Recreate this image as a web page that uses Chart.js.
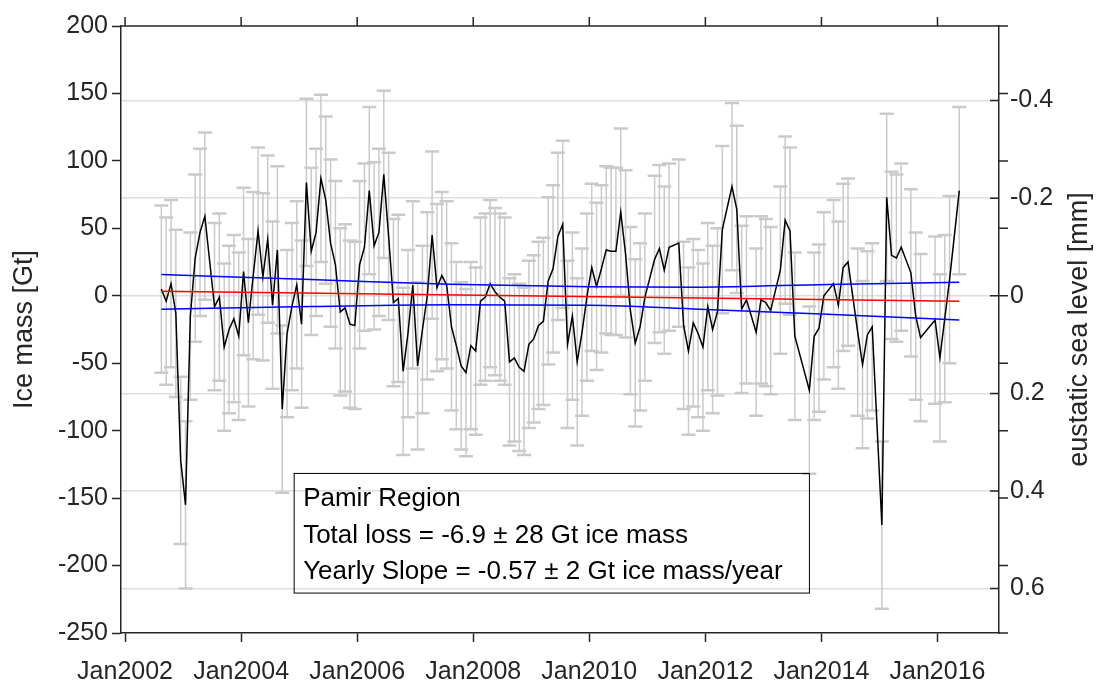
<!DOCTYPE html>
<html>
<head>
<meta charset="utf-8">
<title>Pamir Region - ice mass</title>
<script src="https://cdn.jsdelivr.net/npm/chart.js@4.4.1/dist/chart.umd.min.js"></script>
<style>
  html, body { margin: 0; padding: 0; background: #fff; }
</style>
</head>
<body>
<canvas id="massChart" width="1102" height="686"></canvas>
<script>
// ============================================
// Pamir Region ice mass (GRACE monthly solutions)
// ============================================

// Monthly ice mass anomaly [Gt], missing months are left out
const months = [
  '2002-08', '2002-09', '2002-10', '2002-11', '2002-12',
  '2003-01', '2003-02', '2003-03', '2003-04', '2003-05', '2003-07', '2003-08', '2003-09', '2003-10', '2003-11', '2003-12',
  '2004-01', '2004-02', '2004-03', '2004-04', '2004-05', '2004-06', '2004-07', '2004-08', '2004-09', '2004-10', '2004-11', '2004-12',
  '2005-01', '2005-02', '2005-03', '2005-04', '2005-05', '2005-06', '2005-07', '2005-08', '2005-09', '2005-10', '2005-11', '2005-12',
  '2006-01', '2006-02', '2006-03', '2006-04', '2006-05', '2006-06', '2006-07', '2006-08', '2006-09', '2006-10', '2006-11', '2006-12',
  '2007-01', '2007-02', '2007-03', '2007-04', '2007-05', '2007-06', '2007-07', '2007-08', '2007-09', '2007-10', '2007-11', '2007-12',
  '2008-01', '2008-02', '2008-03', '2008-04', '2008-05', '2008-06', '2008-07', '2008-08', '2008-09', '2008-10', '2008-11', '2008-12',
  '2009-01', '2009-02', '2009-03', '2009-04', '2009-05', '2009-06', '2009-07', '2009-08', '2009-09', '2009-10', '2009-11', '2009-12',
  '2010-01', '2010-02', '2010-03', '2010-04', '2010-05', '2010-06', '2010-07', '2010-08', '2010-09', '2010-10', '2010-11', '2010-12',
  '2011-02', '2011-03', '2011-04', '2011-05', '2011-07', '2011-08', '2011-09', '2011-10', '2011-11', '2011-12',
  '2012-01', '2012-02', '2012-03', '2012-04', '2012-06', '2012-07', '2012-08', '2012-09', '2012-11', '2012-12',
  '2013-01', '2013-02', '2013-04', '2013-05', '2013-06', '2013-07', '2013-10', '2013-11', '2013-12',
  '2014-01', '2014-03', '2014-04', '2014-05', '2014-06', '2014-08', '2014-09', '2014-10', '2014-11',
  '2015-01', '2015-02', '2015-03', '2015-04', '2015-05', '2015-07', '2015-08', '2015-09', '2015-12',
  '2016-01', '2016-02', '2016-03', '2016-05'
];

const iceMass = [
  5, -4, 9, -13, -122,
  -155, -15, 28, 47, 59, -8, -1, -38, -25, -17, -30,
  18, -20, 15, 48, 14, 42, -7, 34, -84, -28, -8, 8,
  -21, 84, 33, 47, 87, 71, 39, 23, -12, -9, -21, -22,
  23, 36, 78, 37, 47, 90, 44, -5, -2, -56, -28, 8,
  -52, -25, 0, 45, 6, 15, 8, -23, -37, -52, -57, -37,
  -41, -4, -1, 9, 3, -1, -4, -49, -46, -53, -56, -36,
  -32, -22, -19, 11, 20, 44, 53, -36, -15, -49, -27, -1,
  21, 7, 20, 34, 33, 33, 62, 31, -11, -35, -23, -1,
  27, 35, 19, 36, 39, -22, -41, -20, -28, -38,
  -8, -25, -12, 49, 81, 64, -10, -3, -27, -3,
  -5, -11, 19, 56, 48, -30, -70, -30, -24,
  0, 9, -7, 21, 25, -27, -51, -29, -23,
  -170, 73, 30, 28, 36, 17, -15, -31, -18,
  -46, -17, 12, 78
];

// Half length of the error bars [Gt]
const massError = 62;

// Linear trend and its confidence band [Gt]
const trendYears = [2002.625, 2016.375];
const trendMass = [3.4, -4.0];
const bandYears = [2002.625, 2005.2, 2007.6, 2010.0, 2011.9, 2014.1, 2016.375];
const bandUpper = [15.8, 12.0, 8.5, 6.7, 6.4, 8.4, 10.1];
const bandLower = [-9.9, -8.0, -6.7, -7.0, -9.9, -13.7, -17.9];

// Axes
const yearTicks = [2002, 2004, 2006, 2008, 2010, 2012, 2014, 2016];
const massTicks = [-250, -200, -150, -100, -50, 0, 50, 100, 150, 200];
const seaLevelTicks = [-0.4, -0.2, 0, 0.2, 0.4, 0.6];
const GT_PER_MM = 361.8;   // 1 mm eustatic sea level = 361.8 Gt

const infoLines = [
  'Pamir Region',
  'Total loss = -6.9 \u00b1 28 Gt ice mass',
  'Yearly Slope = -0.57 \u00b1 2 Gt ice mass/year'
];

const AXIS = '#262626';
const FONT = "'Liberation Sans', Arial, Helvetica, sans-serif";

Chart.defaults.font.family = FONT;
Chart.defaults.color = AXIS;

// 'YYYY-MM' -> decimal year at mid month
const toYear = m => {
  const [y, mo] = m.split('-').map(Number);
  return y + (mo - 0.5) / 12;
};

const xy = (xs, ys) => xs.map((x, i) => ({ x, y: ys[i] }));

// Grey error bars with caps, under the curves
const errorBars = {
  id: 'errorBars',
  beforeDatasetsDraw(chart) {
    const { ctx, scales: { x, y } } = chart;
    ctx.save();
    ctx.strokeStyle = '#cacaca';
    months.forEach((m, i) => {
      const px = x.getPixelForValue(toYear(m));
      const top = y.getPixelForValue(iceMass[i] + massError);
      const bot = y.getPixelForValue(iceMass[i] - massError);
      ctx.lineWidth = 1.5;
      ctx.beginPath();
      ctx.moveTo(px, top);
      ctx.lineTo(px, bot);
      ctx.stroke();
      ctx.lineWidth = 2.5;
      ctx.beginPath();
      ctx.moveTo(px - 7, top); ctx.lineTo(px + 7, top);
      ctx.moveTo(px - 7, bot); ctx.lineTo(px + 7, bot);
      ctx.stroke();
    });
    ctx.restore();
  }
};

// Top border, mirrored ticks and the axis titles
const frame = {
  id: 'frame',
  afterDraw(chart) {
    const { ctx, chartArea: a, scales: { x, y, y2 } } = chart;
    ctx.save();
    ctx.strokeStyle = AXIS;
    ctx.lineWidth = 1.5;
    ctx.beginPath();
    ctx.moveTo(a.left, a.top);
    ctx.lineTo(a.right, a.top);
    x.ticks.forEach(t => {
      const px = x.getPixelForValue(t.value);
      ctx.moveTo(px, a.top);
      ctx.lineTo(px, a.top - 9);
    });
    y.ticks.forEach(t => {
      const py = y.getPixelForValue(t.value);
      ctx.moveTo(a.right, py);
      ctx.lineTo(a.right + 9, py);
    });
    y2.ticks.forEach(t => {
      const py = y2.getPixelForValue(t.value);
      ctx.moveTo(a.right - 9, py);
      ctx.lineTo(a.right, py);
    });
    ctx.stroke();

    ctx.fillStyle = AXIS;
    ctx.font = '27px ' + FONT;
    ctx.textAlign = 'center';
    ctx.textBaseline = 'middle';
    const midY = (a.top + a.bottom) / 2;
    ctx.translate(25, midY);
    ctx.rotate(-Math.PI / 2);
    ctx.fillText('Ice mass [Gt]', 0, 0);
    ctx.rotate(Math.PI / 2);
    ctx.translate(1080 - 25, 0);
    ctx.rotate(-Math.PI / 2);
    ctx.fillText('eustatic sea level [mm]', 0, 0);
    ctx.restore();
  }
};

// Text box with the trend figures
const infoBox = {
  id: 'infoBox',
  afterDraw(chart) {
    const { ctx, scales: { x, y } } = chart;
    const left = x.getPixelForValue(2004.914);
    const right = x.getPixelForValue(2013.793);
    const top = y.getPixelForValue(-131.7);
    const bottom = y.getPixelForValue(-220.4);
    ctx.save();
    ctx.strokeStyle = '#000';
    ctx.lineWidth = 1;
    ctx.strokeRect(left, top, right - left, bottom - top);
    ctx.fillStyle = '#000';
    ctx.font = '26px ' + FONT;
    ctx.textBaseline = 'alphabetic';
    infoLines.forEach((line, i) => {
      ctx.fillText(line, left + 9, top + 33 + i * 36.5);
    });
    ctx.restore();
  }
};

new Chart(document.getElementById('massChart'), {
  type: 'line',
  data: {
    datasets: [
      {
        label: 'Trend',
        data: xy(trendYears, trendMass),
        borderColor: '#ff0000',
        borderWidth: 1.5,
        pointRadius: 0
      },
      {
        label: 'Upper bound',
        data: xy(bandYears, bandUpper),
        borderColor: '#0000ff',
        borderWidth: 1.5,
        pointRadius: 0,
        cubicInterpolationMode: 'monotone'
      },
      {
        label: 'Lower bound',
        data: xy(bandYears, bandLower),
        borderColor: '#0000ff',
        borderWidth: 1.5,
        pointRadius: 0,
        cubicInterpolationMode: 'monotone'
      },
      {
        label: 'Ice mass',
        data: xy(months.map(toYear), iceMass),
        borderColor: '#000000',
        borderWidth: 1.5,
        pointRadius: 0
      }
    ]
  },
  options: {
    responsive: false,
    animation: false,
    events: [],
    layout: { autoPadding: false, padding: { top: 16.5, left: 0, right: 0, bottom: 0 } },
    plugins: {
      legend: { display: false },
      tooltip: { enabled: false }
    },
    scales: {
      x: {
        type: 'linear',
        min: 2001.93,
        max: 2017.06,
        afterBuildTicks: s => { s.ticks = yearTicks.map(v => ({ value: v })); },
        afterFit: s => { s.height = 53; },
        grid: { drawOnChartArea: false, tickLength: 9, tickColor: AXIS, tickWidth: 1.5 },
        border: { color: AXIS, width: 1.5 },
        ticks: {
          autoSkip: false,
          maxRotation: 0,
          padding: 15,
          color: AXIS,
          font: { size: 25 },
          callback: v => 'Jan' + v
        }
      },
      y: {
        min: -250,
        max: 200,
        afterBuildTicks: s => { s.ticks = massTicks.map(v => ({ value: v })); },
        afterFit: s => { s.width = 121; },
        grid: { drawOnChartArea: false, tickLength: 9, tickColor: AXIS, tickWidth: 1.5 },
        border: { color: AXIS, width: 1.5 },
        ticks: { padding: 4, color: AXIS, font: { size: 25 } }
      },
      y2: {
        position: 'right',
        reverse: true,
        min: -200 / GT_PER_MM,
        max: 250 / GT_PER_MM,
        afterBuildTicks: s => { s.ticks = seaLevelTicks.map(v => ({ value: v })); },
        afterFit: s => { s.width = 103; },
        grid: { color: '#dedede', lineWidth: 1.5, drawTicks: false },
        border: { color: AXIS, width: 1.5 },
        ticks: {
          padding: 11,
          color: AXIS,
          font: { size: 25 },
          callback: v => (v === 0 ? '0' : v.toFixed(1))
        }
      }
    }
  },
  plugins: [errorBars, frame, infoBox]
});
</script>
</body>
</html>
